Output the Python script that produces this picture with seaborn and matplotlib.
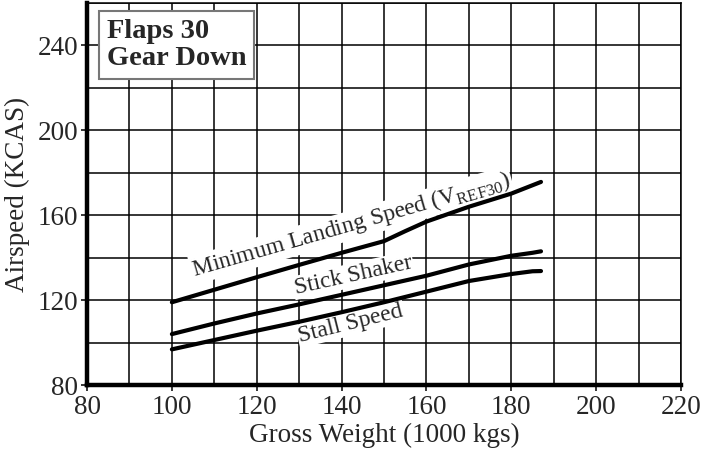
import numpy as np
import pandas as pd
import matplotlib
matplotlib.use("Agg")
import matplotlib.pyplot as plt
import seaborn as sns
import matplotlib.ticker as ticker

# values
weight_vref = [100, 110, 120, 130, 140, 150, 155, 160, 170, 180, 187]
min_landing = [119, 124.9, 130.8, 136.6, 142.3, 147.8, 152.5, 157, 164, 170.2, 175.7]

weight = [100, 110, 120, 130, 140, 150, 160, 170, 180, 185, 187]
stick_shaker = [104, 109, 113.7, 118, 122.5, 127, 131.5, 136.8, 140.9, 142.3, 143]
stall_speed = [96.8, 101.2, 105.6, 109.8, 114.3, 119, 124, 129, 132.3, 133.6, 133.7]

curve_names = ["Minimum Landing Speed", "Stick Shaker", "Stall Speed"]

# long form table
df = pd.concat(
    [
        pd.DataFrame({"weight": weight_vref, "speed": min_landing, "curve": curve_names[0]}),
        pd.DataFrame({"weight": weight, "speed": stick_shaker, "curve": curve_names[1]}),
        pd.DataFrame({"weight": weight, "speed": stall_speed, "curve": curve_names[2]}),
    ],
    ignore_index=True,
)

sns.set_style("white")
plt.rcParams["font.family"] = ["Liberation Serif", "DejaVu Serif"]
plt.rcParams["mathtext.fontset"] = "custom"
plt.rcParams["mathtext.rm"] = "Liberation Serif"

fig = plt.figure(figsize=(7.03, 4.55), dpi=100)
ax = fig.add_axes([0.1238, 0.1538, 0.9687 - 0.1238, 0.9934 - 0.1538])

sns.lineplot(
    data=df,
    x="weight",
    y="speed",
    hue="curve",
    palette={n: "black" for n in curve_names},
    linewidth=3,
    legend=False,
    sort=False,
    ax=ax,
    zorder=3,
)

ax.set_xlim(80, 220)
ax.set_ylim(80, 260)
ax.xaxis.set_major_locator(ticker.MultipleLocator(20))
ax.xaxis.set_minor_locator(ticker.MultipleLocator(10))
ax.yaxis.set_major_locator(ticker.FixedLocator([80, 120, 160, 200, 240]))
ax.yaxis.set_minor_locator(ticker.MultipleLocator(20))
ax.grid(which="both", color="black", linewidth=1.1)
ax.set_axisbelow(True)

for s in ["left", "bottom"]:
    ax.spines[s].set_linewidth(3.2)
    ax.spines[s].set_color("black")
for s in ["top", "right"]:
    ax.spines[s].set_linewidth(1.1)
    ax.spines[s].set_color("black")

ax.tick_params(which="major", direction="out", length=4.5, width=1.1, color="black",
               labelsize=19.5, bottom=True, left=True)
ax.tick_params(axis="x", pad=2.5)
ax.tick_params(axis="y", pad=2)
ax.tick_params(which="minor", length=0)

ax.set_xlabel("Gross Weight (1000 kgs)", fontsize=19.5, labelpad=2)
ax.set_ylabel("Airspeed (KCAS)", fontsize=19.5, labelpad=5)

# curve labels
box = dict(facecolor="white", edgecolor="none", pad=1)
ax.text(142.7, 152.6, r"Minimum Landing Speed (V$_{\mathrm{REF30}}$)", rotation=16,
        rotation_mode="anchor", ha="center", va="baseline", fontsize=17, bbox=box, zorder=2)
ax.text(143, 129.2, "Stick Shaker", rotation=12.5, rotation_mode="anchor",
        ha="center", va="baseline", fontsize=17, bbox=box, zorder=2)
ax.text(142.5, 106.5, "Stall Speed", rotation=14, rotation_mode="anchor",
        ha="center", va="baseline", fontsize=17, bbox=box, zorder=2)

ax.text(0.033, 0.957, "Flaps 30\nGear Down", transform=ax.transAxes, ha="left", va="top",
        fontsize=20.5, fontweight="bold", linespacing=1.08,
        bbox=dict(boxstyle="square,pad=0.28", facecolor="white", edgecolor="#777777", linewidth=1.5),
        zorder=4)

plt.savefig("out.png", dpi=100)
